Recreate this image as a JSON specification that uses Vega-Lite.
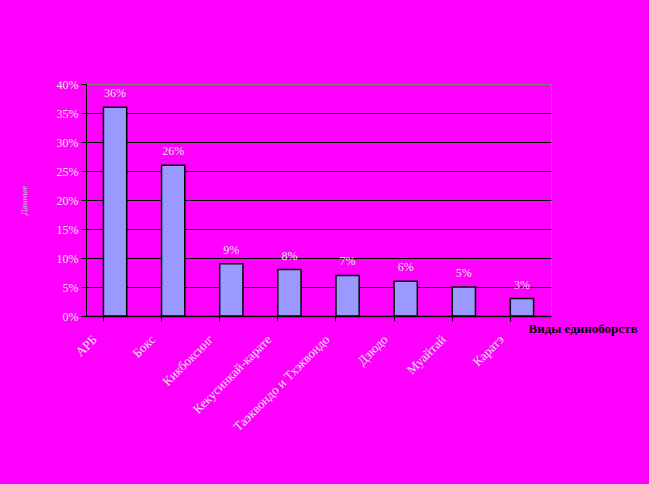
{
  "$schema": "https://vega.github.io/schema/vega-lite/v6.json",
  "autosize": "none",
  "width": 465,
  "height": 232,
  "padding": {"left": 86, "top": 84, "right": 98, "bottom": 168},
  "background": "#ff00ff",
  "config": {
    "view": {"stroke": "#808080", "strokeWidth": 1},
    "font": "Liberation Serif"
  },
  "data": {
    "values": [
      {"sport": "АРБ", "share": 0.36},
      {"sport": "Бокс", "share": 0.26},
      {"sport": "Кикбоксинг", "share": 0.09},
      {"sport": "Кекусинкай-карате", "share": 0.08},
      {"sport": "Таэквондо и Тхэквондо", "share": 0.07},
      {"sport": "Дзюдо", "share": 0.06},
      {"sport": "Муайтай", "share": 0.05},
      {"sport": "Каратэ", "share": 0.03}
    ]
  },
  "encoding": {
    "x": {
      "field": "sport",
      "type": "nominal",
      "sort": null,
      "scale": {"paddingInner": 0.6, "paddingOuter": 0.3},
      "axis": {
        "title": "Виды единоборств",
        "titleFont": "Liberation Serif",
        "titleFontSize": 13,
        "titleFontWeight": "bold",
        "titleColor": "#000000",
        "titleAlign": "right",
        "titleBaseline": "middle",
        "titleX": 551,
        "titleY": 12,
        "labelAngle": -45,
        "labelAlign": "right",
        "labelBaseline": "middle",
        "labelFontSize": 13,
        "labelColor": "#e8e8e8",
        "labelPadding": 16,
        "labelOffset": -20,
        "labelOverlap": false,
        "bandPosition": 0,
        "tickColor": "#000000",
        "tickSize": 5,
        "domainColor": "#000000",
        "domainWidth": 1.5
      }
    },
    "y": {
      "field": "share",
      "type": "quantitative",
      "scale": {"domain": [0, 0.4]},
      "axis": {
        "title": "Данные",
        "titleFont": "Liberation Serif",
        "titleFontSize": 9,
        "titleFontWeight": "normal",
        "titleColor": "#c8c8c8",
        "titleX": -58,
        "titleAngle": -90,
        "format": ".0%",
        "values": [0, 0.05, 0.1, 0.15, 0.2, 0.25, 0.3, 0.35, 0.4],
        "labelOverlap": false,
        "labelFlush": false,
        "labelFontSize": 12,
        "labelColor": "#e8e8e8",
        "labelPadding": 3,
        "tickColor": "#000000",
        "tickSize": 5,
        "domainColor": "#000000",
        "gridColor": {"condition": {"test": "datum.value >= 0.399", "value": "#808080"}, "value": "#000000"},
        "gridOpacity": 1,
        "gridWidth": 1
      }
    }
  },
  "layer": [
    {
      "mark": {"type": "bar", "fill": "#9999ff", "stroke": "#000000", "strokeWidth": 1.5}
    },
    {
      "mark": {"type": "text", "baseline": "bottom", "dy": -7, "fontSize": 12, "font": "Liberation Serif", "fill": "#e8e8e8"},
      "encoding": {
        "text": {"field": "share", "type": "quantitative", "format": ".0%"}
      }
    }
  ]
}
